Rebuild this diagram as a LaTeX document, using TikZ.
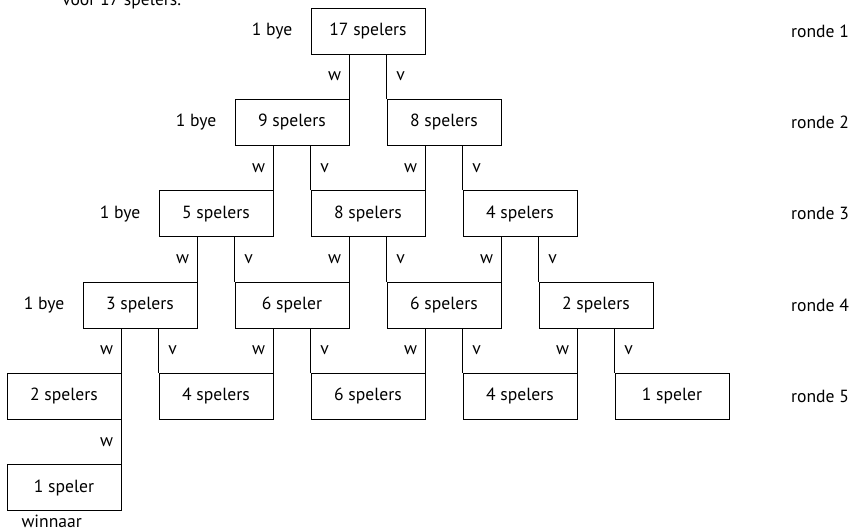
\documentclass[tikz,border=0pt]{standalone}
\usepackage{fontspec}
\setmainfont{PT Sans}
\usetikzlibrary{positioning}

\begin{document}
\begin{tikzpicture}[
    x=0.75pt, y=-0.75pt,
    node distance=33.4pt,
    stand/.style={draw, line width=0.6pt, minimum width=85.5pt, minimum height=34.5pt, inner sep=0pt, font=\fontsize{13.2}{15}\selectfont},
    txt/.style={font=\fontsize{13.2}{15}\selectfont, inner sep=2pt},
    lijn/.style={line width=0.6pt},
]
\clip (0,0) rectangle (856,530);

% titel (afgesneden)
\node[txt, anchor=base west, inner sep=0pt] (titel) at (62,6) {voor 17 spelers.};

% ronde 1
\node[stand] (s11) at (368,31) {17 spelers};

% ronde 2
\node[stand, below=of s11, xshift=-57pt] (s21) {9 spelers};
\node[stand, below=of s11, xshift=57pt] (s22) {8 spelers};

% ronde 3
\node[stand, below=of s21, xshift=-57pt] (s31) {5 spelers};
\node[stand, below=of s21, xshift=57pt] (s32) {8 spelers};
\node[stand, below=of s22, xshift=57pt] (s33) {4 spelers};

% ronde 4
\node[stand, below=of s31, xshift=-57pt] (s41) {3 spelers};
\node[stand, below=of s31, xshift=57pt] (s42) {6 speler};
\node[stand, below=of s32, xshift=57pt] (s43) {6 spelers};
\node[stand, below=of s33, xshift=57pt] (s44) {2 spelers};

% ronde 5
\node[stand, below=of s41, xshift=-57pt] (s51) {2 spelers};
\node[stand, below=of s41, xshift=57pt] (s52) {4 spelers};
\node[stand, below=of s42, xshift=57pt] (s53) {6 spelers};
\node[stand, below=of s43, xshift=57pt] (s54) {4 spelers};
\node[stand, below=of s44, xshift=57pt] (s55) {1 speler};

% finale
\node[stand, below=of s51] (s61) {1 speler};
\node[txt, anchor=base west, inner sep=0pt] (winnaar) at ([xshift=11pt,yshift=-12.3pt]s61.south west) {winnaar};

% byes
\node[txt, left=11.5pt of s11] (bye1) {1 bye};
\node[txt, left=11.5pt of s21] (bye2) {1 bye};
\node[txt, left=11.5pt of s31] (bye3) {1 bye};
\node[txt, left=11.5pt of s41] (bye4) {1 bye};

% rondes
\coordinate (rk) at (820,0);
\node[txt] (ronde1) at (rk |- s11) {ronde 1};
\node[txt] (ronde2) at (rk |- s21) {ronde 2};
\node[txt] (ronde3) at (rk |- s31) {ronde 3};
\node[txt] (ronde4) at (rk |- s41) {ronde 4};
\node[txt] (ronde5) at (rk |- s51) {ronde 5};

% winnaars en verliezers
\draw[lijn] (s21.north east |- s11.south) -- node[txt, left=4pt] {w} (s21.north east);
\draw[lijn] (s22.north west |- s11.south) -- node[txt, right=5pt] {v} (s22.north west);

\draw[lijn] (s31.north east |- s21.south) -- node[txt, left=4pt] {w} (s31.north east);
\draw[lijn] (s32.north west |- s21.south) -- node[txt, right=5pt] {v} (s32.north west);
\draw[lijn] (s32.north east |- s22.south) -- node[txt, left=4pt] {w} (s32.north east);
\draw[lijn] (s33.north west |- s22.south) -- node[txt, right=5pt] {v} (s33.north west);

\draw[lijn] (s41.north east |- s31.south) -- node[txt, left=4pt] {w} (s41.north east);
\draw[lijn] (s42.north west |- s31.south) -- node[txt, right=5pt] {v} (s42.north west);
\draw[lijn] (s42.north east |- s32.south) -- node[txt, left=4pt] {w} (s42.north east);
\draw[lijn] (s43.north west |- s32.south) -- node[txt, right=5pt] {v} (s43.north west);
\draw[lijn] (s43.north east |- s33.south) -- node[txt, left=4pt] {w} (s43.north east);
\draw[lijn] (s44.north west |- s33.south) -- node[txt, right=5pt] {v} (s44.north west);

\draw[lijn] (s51.north east |- s41.south) -- node[txt, left=4pt] {w} (s51.north east);
\draw[lijn] (s52.north west |- s41.south) -- node[txt, right=5pt] {v} (s52.north west);
\draw[lijn] (s52.north east |- s42.south) -- node[txt, left=4pt] {w} (s52.north east);
\draw[lijn] (s53.north west |- s42.south) -- node[txt, right=5pt] {v} (s53.north west);
\draw[lijn] (s53.north east |- s43.south) -- node[txt, left=4pt] {w} (s53.north east);
\draw[lijn] (s54.north west |- s43.south) -- node[txt, right=5pt] {v} (s54.north west);
\draw[lijn] (s54.north east |- s44.south) -- node[txt, left=4pt] {w} (s54.north east);
\draw[lijn] (s55.north west |- s44.south) -- node[txt, right=5pt] {v} (s55.north west);

\draw[lijn] (s51.south east) -- node[txt, left=4pt] {w} (s61.north east);

\end{tikzpicture}
\end{document}
